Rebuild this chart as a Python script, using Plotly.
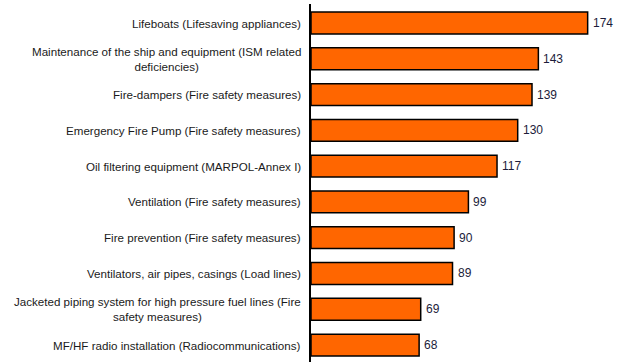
import plotly.graph_objects as go

categories = [
    "Lifeboats (Lifesaving appliances)",
    "Maintenance of the ship and equipment (ISM related<br>deficiencies)",
    "Fire-dampers (Fire safety measures)",
    "Emergency Fire Pump (Fire safety measures)",
    "Oil filtering equipment (MARPOL-Annex I)",
    "Ventilation (Fire safety measures)",
    "Fire prevention (Fire safety measures)",
    "Ventilators, air pipes, casings (Load lines)",
    "Jacketed piping system for high pressure fuel lines (Fire<br>safety measures)",
    "MF/HF radio installation (Radiocommunications)",
]
values = [174, 143, 139, 130, 117, 99, 90, 89, 69, 68]

positions = list(range(len(categories)))
label_font = dict(family="Liberation Sans, Arial, sans-serif", size=11.6, color="#1a1a1a")
value_font = dict(family="Liberation Sans, Arial, sans-serif", size=12, color="#1c1c3a")

fig = go.Figure(
    go.Bar(
        x=values,
        y=positions,
        orientation="h",
        width=0.61,
        marker=dict(color="#FF6600", line=dict(color="#000000", width=1.5)),
        hoverinfo="skip",
    )
)

# category labels as centred multi-line annotations left of the axis
for pos, cat in zip(positions, categories):
    fig.add_annotation(
        x=0, xref="paper", y=pos, yref="y",
        text=cat, showarrow=False,
        xanchor="right", yanchor="middle", align="center",
        xshift=-8, font=label_font,
    )

# value labels just past the end of each bar
for pos, v in zip(positions, values):
    fig.add_annotation(
        x=v, xref="x", y=pos, yref="y",
        text=str(v), showarrow=False,
        xanchor="left", yanchor="middle",
        xshift=3, font=value_font,
    )

fig.update_layout(
    width=622, height=362,
    margin=dict(l=311, r=0, t=4, b=0),
    paper_bgcolor="white", plot_bgcolor="white",
    showlegend=False,
)
fig.update_xaxes(range=[0, 195.6], visible=False, showgrid=False, zeroline=False)
fig.update_yaxes(
    range=[9.474, -0.531],
    showticklabels=False, showgrid=False, zeroline=False, ticks="",
    showline=True, linecolor="#000000", linewidth=1.5,
)

fig.write_html("out.html")
